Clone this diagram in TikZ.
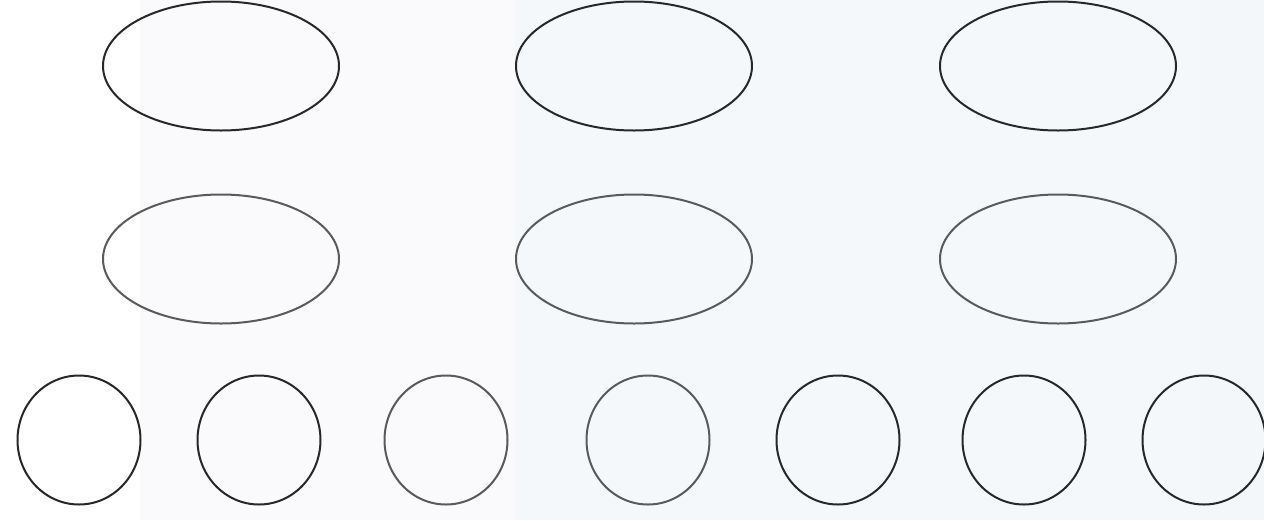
\documentclass[tikz,border=0pt]{standalone}
\usepackage{tikz}
\usetikzlibrary{shapes.geometric}

\definecolor{bgmid}{RGB}{250,250,253}
\definecolor{bgright}{RGB}{245,248,250}
\definecolor{bgedge}{RGB}{243,247,249}
\definecolor{rimdark}{RGB}{40,40,40}
\definecolor{rimgray}{RGB}{90,90,90}

\tikzset{
  bigoval/.style={draw=rimdark, line width=2pt, ellipse, inner sep=0pt,
    minimum width=236pt, minimum height=129pt},
  smalloval/.style={draw=rimdark, line width=2pt, ellipse, inner sep=0pt,
    minimum width=123pt, minimum height=129pt}
}

\begin{document}
\begin{tikzpicture}[x=1pt,y=-1pt]
  \useasboundingbox (0,0) rectangle (1264,520);
  \fill[white] (0,0) rectangle (140,520);
  \fill[bgmid] (140,0) rectangle (515,520);
  \fill[bgright] (515,0) rectangle (1200,520);
  \fill[bgedge] (1200,0) rectangle (1264,520);
  \node[bigoval] (topa) at (221,66) {};
  \node[bigoval] (topb) at (634,66) {};
  \node[bigoval] (topc) at (1058,66) {};
  \node[bigoval, draw=rimgray] (mida) at (221,259) {};
  \node[bigoval, draw=rimgray] (midb) at (634,259) {};
  \node[bigoval, draw=rimgray] (midc) at (1058,259) {};
  \node[smalloval] (dota) at (79,440) {};
  \node[smalloval] (dotb) at (259,440) {};
  \node[smalloval, draw=rimgray] (dotc) at (446,440) {};
  \node[smalloval, draw=rimgray] (dotd) at (648,440) {};
  \node[smalloval] (dote) at (838,440) {};
  \node[smalloval] (dotf) at (1024,440) {};
  \node[smalloval] (dotg) at (1204,440) {};
\end{tikzpicture}
\end{document}
